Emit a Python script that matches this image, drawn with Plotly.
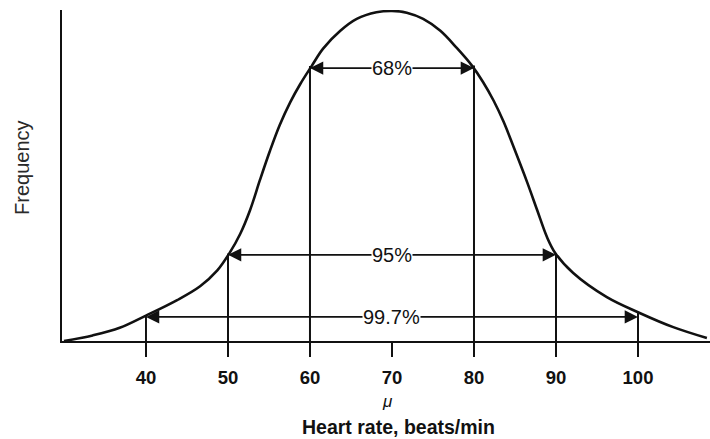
import plotly.graph_objects as go

# Curve (heart rate, relative frequency 0-100)
curve_x = [30, 33.5, 36.8, 40, 43.8, 46.6, 48.7, 50.2, 51.5, 52.7, 53.9, 55.1, 56.3, 57.6, 58.8,
           60.2, 61.6, 63.7, 65.7, 68.1, 70, 71.8, 73.8, 75.9, 77.9, 79.7, 81.1, 82.4, 83.6,
           84.8, 86.5, 87.7, 88.9, 89.9, 92.1, 96.2, 100.2, 104.3, 108.4]
curve_y = [0, 1.7, 4.0, 7.7, 12.4, 16.6, 21.4, 26.7, 32.5, 39.7, 48.8, 57.5, 65.4, 72.4, 77.8,
           83.3, 88.6, 94.0, 97.6, 99.6, 100, 99.5, 97.6, 94.0, 88.8, 83.6, 78.5, 72.8, 66.5,
           59.0, 48.0, 39.7, 31.5, 26.7, 20.6, 13.3, 8.5, 4.2, 0.9]

# Vertical markers at the sigma positions and their heights on the curve
mark_x = [40, 50, 60, 80, 90, 100]
mark_h = [7.8, 26.5, 83.3, 83.5, 26.5, 8.5]

# Percentage bands
band_labels = ["68%", "95%", "99.7%"]
band_lo = [60, 50, 40]
band_hi = [80, 90, 100]
band_y = [82.7, 26.1, 7.3]
band_mid = [70, 70, 70]

tick_vals = [40, 50, 60, 70, 80, 90, 100]
tick_text = ["40", "50", "60", "70", "80", "90", "100"]

INK = "#111111"
FONT = "Liberation Sans, Arial, sans-serif"

fig = go.Figure()

fig.add_trace(go.Scatter(x=curve_x, y=curve_y, mode="lines",
                         line=dict(color=INK, width=2.6, shape="spline", smoothing=1.0),
                         hoverinfo="skip", showlegend=False))

vx, vy = [], []
for x, h in zip(mark_x, mark_h):
    vx += [x, x, None]
    vy += [0, h, None]
fig.add_trace(go.Scatter(x=vx, y=vy, mode="lines", line=dict(color=INK, width=2),
                         hoverinfo="skip", showlegend=False))

annotations = []
for lab, lo, hi, y, mid in zip(band_labels, band_lo, band_hi, band_y, band_mid):
    for end in (lo, hi):
        annotations.append(dict(x=end, y=y, ax=mid, ay=y, xref="x", yref="y", axref="x", ayref="y",
                                text="", showarrow=True, arrowhead=2, arrowsize=1.4, arrowwidth=1.9,
                                arrowcolor=INK, standoff=0))
for lab, y, mid in zip(band_labels, band_y, band_mid):
    annotations.append(dict(x=mid, y=y, xref="x", yref="y", text=lab, showarrow=False,
                            bgcolor="white", borderpad=0, yanchor="middle", xanchor="center",
                            font=dict(family=FONT, size=20, color=INK)))

annotations.append(dict(x=69.4, y=-0.184, xref="x", yref="paper", text="<i>μ</i>", showarrow=False,
                        yanchor="middle", xanchor="center",
                        font=dict(family=FONT, size=17, color=INK)))
annotations.append(dict(x=0.519, y=-0.26, xref="paper", yref="paper", text="<b>Heart rate, beats/min</b>",
                        showarrow=False, yanchor="middle", xanchor="center",
                        font=dict(family=FONT, size=19.5, color=INK)))
annotations.append(dict(x=-0.0617, y=0.523, xref="paper", yref="paper", text="Frequency", textangle=-90,
                        showarrow=False, yanchor="middle", xanchor="center",
                        font=dict(family=FONT, size=20, color="#2a2a2a")))

fig.update_layout(
    width=710, height=439,
    margin=dict(l=62, r=0, t=10, b=98),
    paper_bgcolor="white", plot_bgcolor="white",
    annotations=annotations,
    xaxis=dict(range=[29.76, 108.78], showgrid=False, zeroline=False,
               showline=True, linecolor=INK, linewidth=2,
               ticks="outside", ticklen=14, tickwidth=2, tickcolor=INK,
               tickvals=tick_vals, ticktext=["<b>%s</b>" % t for t in tick_text],
               tickfont=dict(family=FONT, size=18.5, color=INK), ticklabelstandoff=5),
    yaxis=dict(range=[0, 100.3], showgrid=False, zeroline=False, showticklabels=False,
               showline=True, linecolor=INK, linewidth=2, ticks=""),
)

fig.write_html("out.html", config={"displayModeBar": False},
               post_script="document.body.style.margin='0';")
